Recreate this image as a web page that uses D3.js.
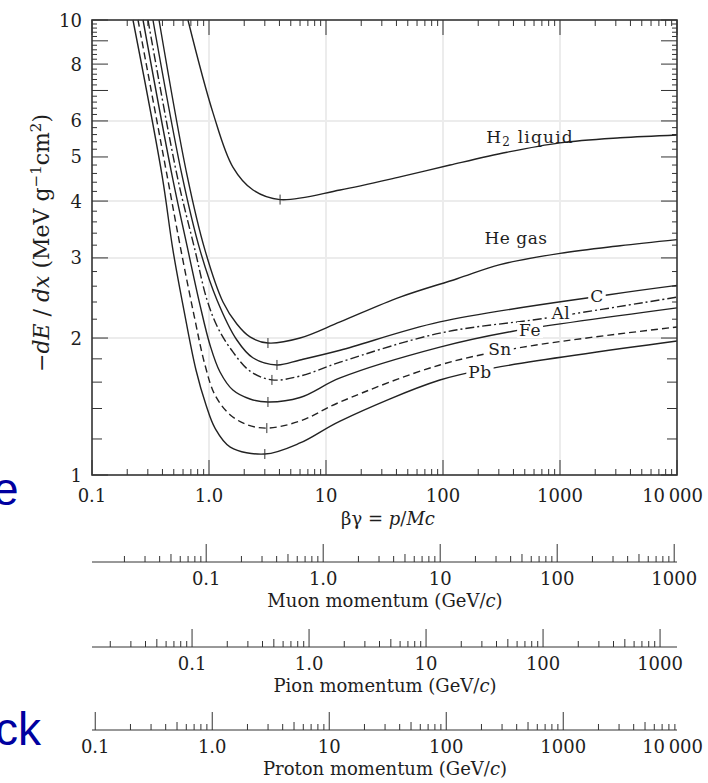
<!DOCTYPE html>
<html>
<head>
<meta charset="utf-8">
<script src="https://cdn.jsdelivr.net/npm/d3@7"></script>
<style>
  body { margin: 0; background: #fff; }
  svg text { font-family: "DejaVu Serif", serif; fill: #1e1e1e; }
  .frame { fill: none; stroke: #333; stroke-width: 1.6; }
  .tick { stroke: #333; stroke-width: 1; }
  .grid { stroke: #ececec; stroke-width: 2; }
  .curve { fill: none; stroke: #222; stroke-width: 1.4; }
</style>
</head>
<body>
<svg id="chart" width="708" height="783"></svg>
<script>
// energy loss curves (betagamma, MeV g^-1 cm^2)
var h2BetaGamma = [0.661, 1.082, 1.60, 2.38, 4.05, 13.2, 42.9, 115, 352, 1000, 3260, 10000];
var h2Loss      = [10, 6.25, 4.75, 4.23, 4.03, 4.23, 4.52, 4.80, 5.12, 5.37, 5.51, 5.59];

var heBetaGamma = [0.374, 0.649, 0.924, 1.317, 1.73, 2.24, 3.19, 6.0, 13.2, 42.9, 132, 307, 1000, 3260, 10000];
var heLoss      = [10, 4.56, 3.12, 2.40, 2.147, 2.011, 1.95, 2.00, 2.17, 2.46, 2.70, 2.90, 3.07, 3.19, 3.29];

var cBetaGamma  = [0.332, 0.5875, 0.838, 1.170, 1.73, 2.37, 3.81, 6.0, 13.2, 94, 2530, 10000];
var cLoss       = [10, 4.56, 3.12, 2.425, 1.98, 1.81, 1.745, 1.79, 1.88, 2.17, 2.486, 2.61];

var alBetaGamma = [0.301, 0.5326, 0.759, 0.962, 1.193, 1.60, 2.24, 3.455, 6.0, 13.2, 94, 775, 10000];
var alLoss      = [10, 4.56, 3.12, 2.425, 2.104, 1.864, 1.692, 1.618, 1.65, 1.77, 2.05, 2.214, 2.46];

var feBetaGamma = [0.273, 0.4827, 0.661, 0.838, 1.020, 1.242, 1.60, 2.24, 3.19, 6.0, 13.2, 94, 396, 10000];
var feLoss      = [10, 4.56, 3.12, 2.363, 1.931, 1.684, 1.537, 1.469, 1.447, 1.48, 1.634, 1.91, 2.07, 2.33];

var snBetaGamma = [0.2474, 0.4375, 0.576, 0.744, 0.924, 1.125, 1.52, 2.154, 3.13, 6.0, 13.2, 94, 483, 10000];
var snLoss      = [10, 4.56, 3.12, 2.247, 1.745, 1.499, 1.355, 1.288, 1.268, 1.314, 1.447, 1.745, 1.91, 2.115];

var pbBetaGamma = [0.224, 0.3966, 0.492, 0.611, 0.774, 0.943, 1.125, 1.52, 3.0, 6.0, 13.2, 94, 267, 10000];
var pbLoss      = [10, 4.56, 3.12, 2.30, 1.701, 1.425, 1.268, 1.152, 1.112, 1.176, 1.314, 1.617, 1.718, 1.97];

// minimum ionization points (small marks on each curve)
var minBetaGamma = [4.05, 3.19, 3.81, 3.45, 3.19, 3.12, 3.0];
var minLoss      = [4.03, 1.95, 1.745, 1.618, 1.447, 1.268, 1.112];

var labels      = ["H2 liquid", "He gas", "C", "Al", "Fe", "Sn", "Pb"];
var labelBG     = [555, 421, 2070, 1019, 555, 307, 207];
var labelLoss   = [5.53, 3.32, 2.474, 2.27, 2.083, 1.892, 1.684];

var xTickValues = [0.1, 1, 10, 100, 1000, 10000];
var xTickLabels = ["0.1", "1.0", "10", "100", "1000", "10\u2009000"];
var yTickValues = [1, 2, 3, 4, 5, 6, 8, 10];

// particle masses (GeV/c^2) for the momentum scales
var muonMass = 0.10566, pionMass = 0.13957, protonMass = 0.93827;

var svg = d3.select("#chart");
var x0 = 92, x1 = 677, y0 = 475, y1 = 20;

var x = d3.scaleLog().domain([0.1, 10000]).range([x0, x1]);
var y = d3.scaleLog().domain([1, 10]).range([y0, y1]);

// faint grid
[1, 10, 100, 1000].forEach(function(v) {
  svg.append("line").attr("class", "grid")
    .attr("x1", x(v)).attr("x2", x(v)).attr("y1", y1).attr("y2", y0);
});
[2, 3, 4, 6].forEach(function(v) {
  svg.append("line").attr("class", "grid")
    .attr("x1", x0).attr("x2", x1).attr("y1", y(v)).attr("y2", y(v));
});

// log ticks along x (top and bottom)
var xTicks = [];
for (var e = -1; e <= 3; e++) {
  for (var k = 1; k <= 9; k++) xTicks.push({v: k * Math.pow(10, e), major: k === 1});
}
xTicks.push({v: 10000, major: true});
xTicks.forEach(function(t) {
  var len = t.major ? 15 : 6;
  svg.append("line").attr("class", "tick")
    .attr("x1", x(t.v)).attr("x2", x(t.v)).attr("y1", y0).attr("y2", y0 - len);
  svg.append("line").attr("class", "tick")
    .attr("x1", x(t.v)).attr("x2", x(t.v)).attr("y1", y1).attr("y2", y1 + len);
});

// y ticks every 0.2, longer at integers
for (var i = 0; i <= 45; i++) {
  var v = 1 + i * 0.2;
  var isInt = Math.abs(v - Math.round(v)) < 1e-6;
  var len = isInt ? 16 : (v < 2 ? 10 : 5);
  svg.append("line").attr("class", "tick")
    .attr("x1", x0).attr("x2", x0 + len).attr("y1", y(v)).attr("y2", y(v));
  svg.append("line").attr("class", "tick")
    .attr("x1", x1).attr("x2", x1 - len).attr("y1", y(v)).attr("y2", y(v));
}

// curves
var curves = [
  {bg: h2BetaGamma, loss: h2Loss, dash: null},
  {bg: heBetaGamma, loss: heLoss, dash: null},
  {bg: cBetaGamma, loss: cLoss, dash: null},
  {bg: alBetaGamma, loss: alLoss, dash: "9,3,2,3"},
  {bg: feBetaGamma, loss: feLoss, dash: null},
  {bg: snBetaGamma, loss: snLoss, dash: "7,4"},
  {bg: pbBetaGamma, loss: pbLoss, dash: null}
];

var line = d3.line()
  .x(function(d) { return x(d[0]); })
  .y(function(d) { return y(d[1]); })
  .curve(d3.curveCatmullRom.alpha(0.5));

curves.forEach(function(c) {
  var pts = c.bg.map(function(b, j) { return [b, c.loss[j]]; });
  svg.append("path").attr("class", "curve")
    .attr("d", line(pts))
    .attr("stroke-dasharray", c.dash);
});

minBetaGamma.forEach(function(b, j) {
  svg.append("line").attr("class", "tick")
    .attr("x1", x(b)).attr("x2", x(b))
    .attr("y1", y(minLoss[j]) - 5).attr("y2", y(minLoss[j]) + 5);
});

// curve labels
labels.forEach(function(name, j) {
  var g = svg.append("g");
  var t = g.append("text")
    .attr("x", x(labelBG[j])).attr("y", y(labelLoss[j]))
    .attr("text-anchor", "middle").attr("dominant-baseline", "central")
    .style("font-size", "17px").style("letter-spacing", "0.5px");
  if (name === "H2 liquid") {
    t.style("letter-spacing", "1.2px");
    t.append("tspan").text("H");
    t.append("tspan").attr("dy", 5).style("font-size", "12px").text("2");
    t.append("tspan").attr("dy", -5).text(" liquid");
  } else {
    t.text(name);
  }
  if (j >= 2) {
    var bb = t.node().getBBox();
    g.insert("rect", "text")
      .attr("x", bb.x - 2).attr("y", bb.y + 2)
      .attr("width", bb.width + 4).attr("height", bb.height - 4)
      .attr("fill", "#fff");
  }
});

// frame
svg.append("rect").attr("class", "frame")
  .attr("x", x0).attr("y", y1).attr("width", x1 - x0).attr("height", y0 - y1);

// tick labels (the wide 10 000 label ends near the right edge)
function tickLabel(px, py, txt) {
  var wide = txt.length > 4;
  svg.append("text").attr("x", wide ? 703 : px).attr("y", py)
    .attr("text-anchor", wide ? "end" : "middle").style("font-size", "18px").text(txt);
}
xTickValues.forEach(function(v, j) { tickLabel(x(v), 502, xTickLabels[j]); });
yTickValues.forEach(function(v) {
  svg.append("text").attr("x", 82).attr("y", y(v))
    .attr("text-anchor", "end").attr("dominant-baseline", "central")
    .style("font-size", "18px").text(v);
});

// axis titles
var xt = svg.append("text").attr("x", 388).attr("y", 525)
  .attr("text-anchor", "middle").style("font-size", "18px");
xt.append("tspan").text("\u03b2\u03b3 = ");
xt.append("tspan").style("font-style", "italic").text("p");
xt.append("tspan").text("/");
xt.append("tspan").style("font-style", "italic").text("Mc");

var yt = svg.append("text")
  .attr("transform", "translate(49,243) rotate(-90)")
  .attr("text-anchor", "middle").style("font-size", "22px");
yt.append("tspan").text("\u2212");
yt.append("tspan").style("font-style", "italic").text("dE");
yt.append("tspan").text(" / ");
yt.append("tspan").style("font-style", "italic").text("dx");
yt.append("tspan").text(" (MeV g");
yt.append("tspan").attr("dy", -8).style("font-size", "15px").text("\u22121");
yt.append("tspan").attr("dy", 8).text("cm");
yt.append("tspan").attr("dy", -8).style("font-size", "15px").text("2");
yt.append("tspan").attr("dy", 8).text(")");

// momentum scales for muon, pion, proton
function momentumAxis(mass, yPos, values, texts, title) {
  var p = d3.scaleLog().domain([0.1 * mass, 10000 * mass]).range([x0, x1]);
  svg.append("line").attr("class", "tick")
    .attr("x1", x0).attr("x2", x1).attr("y1", yPos).attr("y2", yPos);
  for (var e = -2; e <= 4; e++) {
    for (var k = 1; k <= 9; k++) {
      var v = k * Math.pow(10, e);
      if (v < p.domain()[0] || v > p.domain()[1]) continue;
      var len = k === 1 ? 18 : (k === 5 ? 8 : 6);
      svg.append("line").attr("class", "tick")
        .attr("x1", p(v)).attr("x2", p(v)).attr("y1", yPos).attr("y2", yPos - len);
    }
  }
  values.forEach(function(v, j) { tickLabel(p(v), yPos + 23, texts[j]); });
  var t = svg.append("text").attr("x", 385).attr("y", yPos + 45)
    .attr("text-anchor", "middle").style("font-size", "18px");
  t.append("tspan").text(title + " momentum (GeV/");
  t.append("tspan").style("font-style", "italic").text("c");
  t.append("tspan").text(")");
}

momentumAxis(muonMass, 562, [0.1, 1, 10, 100, 1000], ["0.1", "1.0", "10", "100", "1000"], "Muon");
momentumAxis(pionMass, 647, [0.1, 1, 10, 100, 1000], ["0.1", "1.0", "10", "100", "1000"], "Pion");
momentumAxis(protonMass, 730, [0.1, 1, 10, 100, 1000, 10000],
  ["0.1", "1.0", "10", "100", "1000", "10\u2009000"], "Proton");

// cropped slide text on the left edge
svg.append("text").attr("x", -7).attr("y", 505)
  .style("font-family", "'Liberation Sans', Arial, sans-serif")
  .style("font-size", "46px").style("fill", "#0000a0").text("e");
svg.append("text").attr("x", 41).attr("y", 745).attr("text-anchor", "end")
  .style("font-family", "'Liberation Sans', Arial, sans-serif")
  .style("font-size", "46px").style("fill", "#0000a0").text("ck");
</script>
</body>
</html>
